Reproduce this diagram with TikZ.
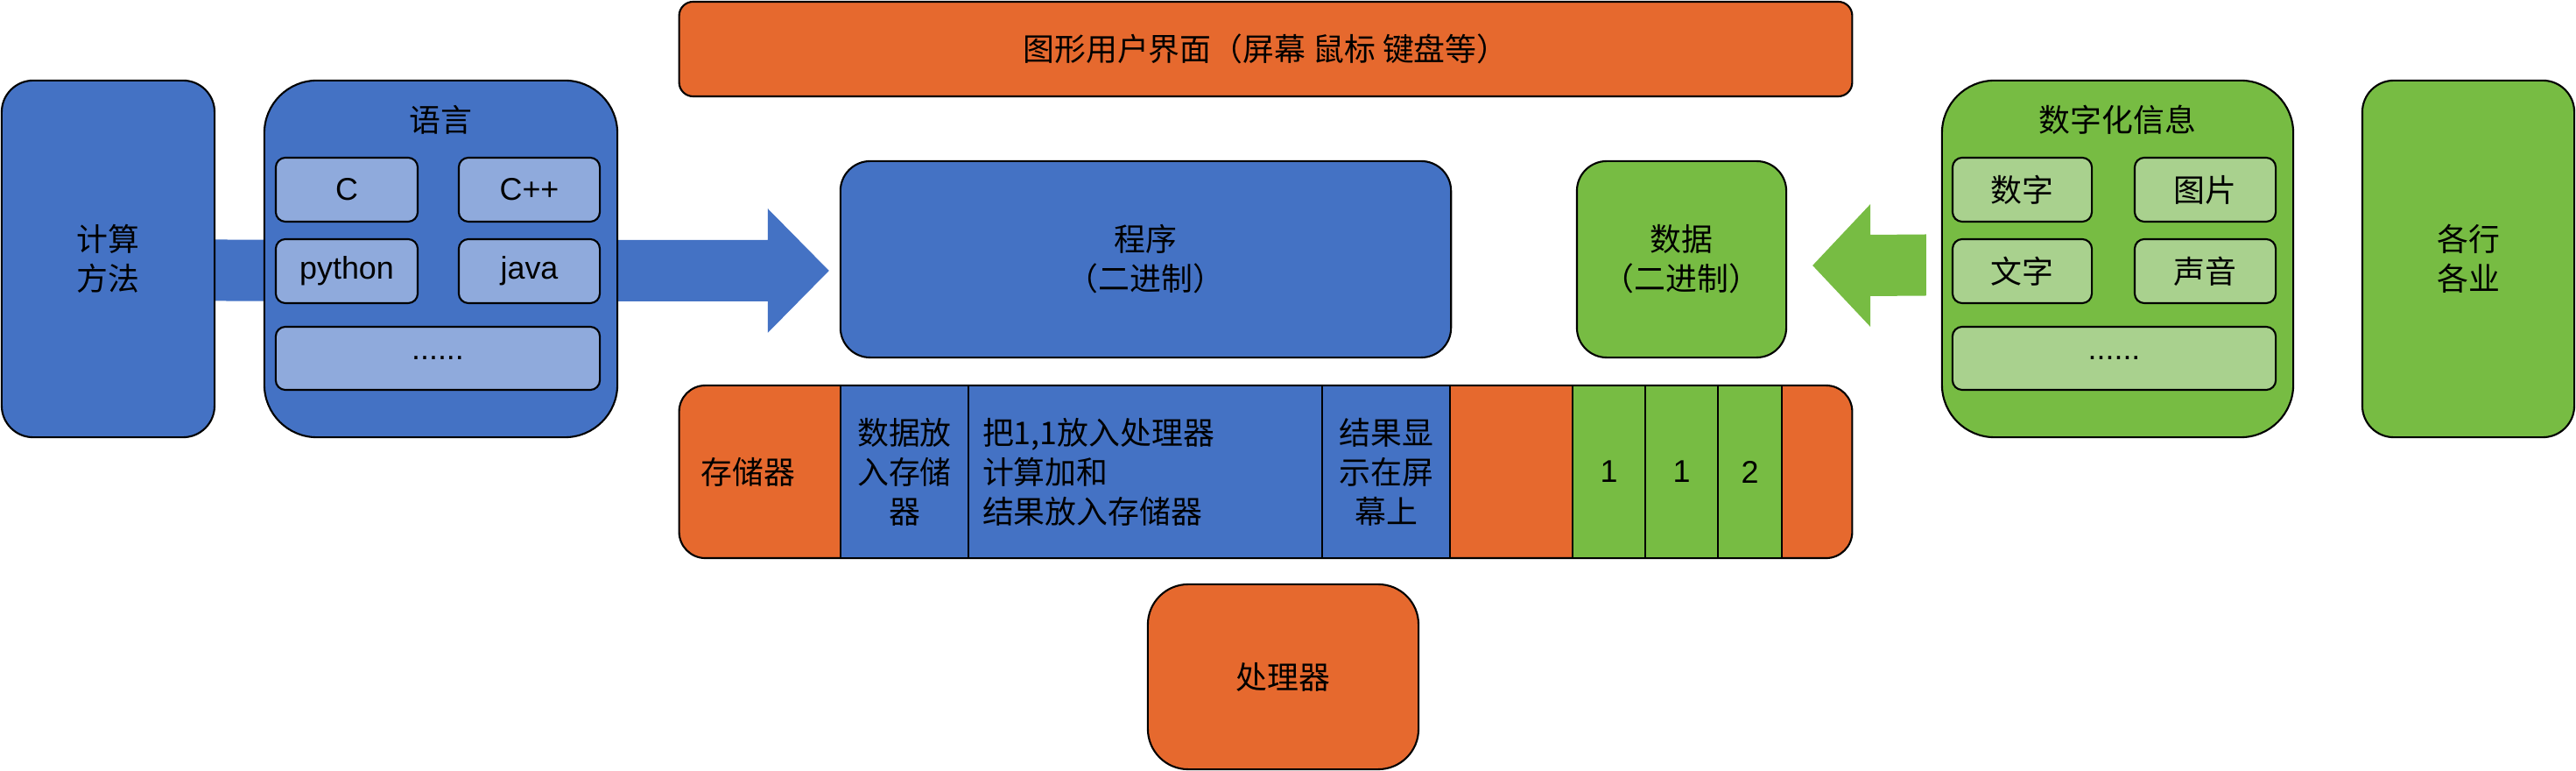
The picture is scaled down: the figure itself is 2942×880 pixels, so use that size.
\documentclass[tikz,border=0pt]{standalone}
\usepackage{fontspec}
\setmainfont{Noto Sans CJK SC}
\newfontfamily\latinfont{Liberation Sans}
\usetikzlibrary{positioning,calc,backgrounds}
\definecolor{bblue}{HTML}{4472C4}
\definecolor{lblue}{HTML}{8FAADC}
\definecolor{orng}{HTML}{E6692E}
\definecolor{grn}{HTML}{77BC43}
\definecolor{lgrn}{HTML}{A9D18E}
\begin{document}
\begin{tikzpicture}[x=0.01cm, y=-0.01cm, font=\fontsize{10.2}{12.8}\selectfont,
    box/.style={draw, line width=0.6pt, rounded corners=#1, inner sep=0pt, align=center},
    sub/.style={box=0.11cm, minimum height=0.73cm},
    cell/.style={draw, line width=0.6pt, inner sep=0pt, outer sep=0pt, minimum height=1.97cm, align=center}]
    \useasboundingbox (0,0) rectangle (2942,880);
    \node[box=0.16cm, fill=orng, minimum width=13.39cm, minimum height=1.08cm] (gui) at (1445.5,56) {图形用户界面（屏幕 鼠标 键盘等）};
    \node[box=0.36cm, fill=bblue, minimum width=2.43cm, minimum height=4.07cm] (calc) at (123.5,295.5) {计算\\方法};
    \node[box=0.6cm, fill=bblue, minimum width=4.03cm, minimum height=4.07cm] (lang) at (503.5,295.5) {};
    \node (langt) at ($(lang.north)+(0,46)$) {语言};
    \node[sub, fill=lblue, minimum width=1.62cm] (c) at (396,216.5) {\latinfont C};
    \node[sub, fill=lblue, minimum width=1.61cm] (cpp) at (604.5,216.5) {\latinfont C++};
    \node[sub, fill=lblue, minimum width=1.62cm] (py) at (396,309.5) {\latinfont python};
    \node[sub, fill=lblue, minimum width=1.61cm] (java) at (604.5,309.5) {\latinfont java};
    \node[sub, fill=lblue, minimum width=3.7cm, minimum height=0.72cm] (ldots) at (500,409) {\latinfont ......};
    \node[box=0.34cm, fill=bblue, minimum width=6.97cm, minimum height=2.24cm] (prog) at (1308.5,296) {程序\\（二进制）};
    \node[box=0.34cm, fill=grn, minimum width=2.39cm, minimum height=2.24cm] (data) at (1920.5,296) {数据\\（二进制）};
    \node[box=0.6cm, fill=grn, minimum width=4.01cm, minimum height=4.07cm] (info) at (2418.5,295.5) {};
    \node (infot) at ($(info.north)+(0,46)$) {数字化信息};
    \node[sub, fill=lgrn, minimum width=1.59cm] (num) at (2309.5,216.5) {数字};
    \node[sub, fill=lgrn, minimum width=1.61cm] (pic) at (2518.5,216.5) {图片};
    \node[sub, fill=lgrn, minimum width=1.59cm] (txt) at (2309.5,309.5) {文字};
    \node[sub, fill=lgrn, minimum width=1.61cm] (snd) at (2518.5,309.5) {声音};
    \node[sub, fill=lgrn, minimum width=3.69cm, minimum height=0.72cm] (idots) at (2414.5,409) {\latinfont ......};
    \node[box=0.36cm, fill=grn, minimum width=2.42cm, minimum height=4.07cm] (trade) at (2819,295.5) {各行\\各业};
    \node[box=0.3cm, fill=orng, minimum width=13.39cm, minimum height=1.97cm] (mem) at (1445.5,538.5) {};
    \node (memt) at ($(mem.west)+(80,0)$) {存储器};
    \node[cell, fill=bblue, minimum width=1.46cm, anchor=west] (m1) at (960,538.5) {数据放\\入存储\\器};
    \node[cell, fill=bblue, text width=3.72cm, inner xsep=0.16cm, align=left, right=0pt of m1] (m2) {把1,1放入处理器\\计算加和\\结果放入存储器};
    \node[cell, fill=bblue, minimum width=1.46cm, right=0pt of m2] (m3) {结果显\\示在屏\\幕上};
    \node[cell, fill=grn, minimum width=0.83cm, anchor=west] (g1) at (1796,538.5) {\latinfont 1};
    \node[cell, fill=grn, minimum width=0.83cm, right=0pt of g1] (g2) {\latinfont 1};
    \node[cell, fill=grn, minimum width=0.73cm, right=0pt of g2] (g3) {\latinfont 2};
    \node[box=0.46cm, fill=orng, minimum width=3.09cm, minimum height=2.11cm] (cpu) at (1465.5,772.5) {处理器};
    \begin{pgfonlayer}{background}
    \fill[bblue] ($(calc.east)+(0,-22)$) -- ($(prog.west)+(-82,-22)$) -- ($(prog.west)+(-82,-58)$) -- ($(prog.west)+(-12,13)$)
        -- ($(prog.west)+(-82,84)$) -- ($(prog.west)+(-82,48)$) -- ($(calc.east)+(0,48)$) -- cycle;
    \fill[grn] ($(data.east)+(29,7)$) -- ($(data.east)+(95,-63)$) -- ($(data.east)+(95,-28)$) -- ($(info.west)+(-17,-28)$)
        -- ($(info.west)+(-17,42)$) -- ($(data.east)+(95,42)$) -- ($(data.east)+(95,77)$) -- cycle;
    \end{pgfonlayer}
\end{tikzpicture}
\end{document}
